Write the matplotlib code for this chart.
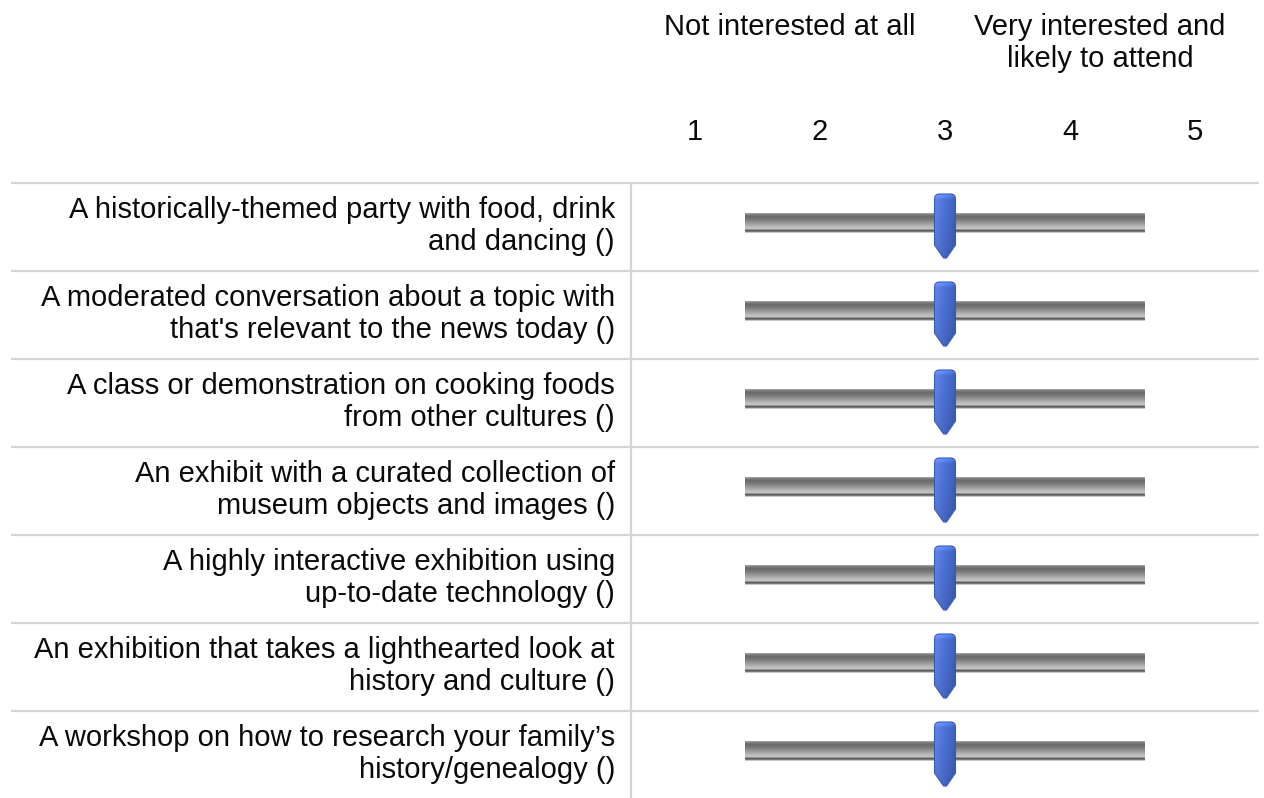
import matplotlib.pyplot as plt
import numpy as np
from matplotlib.path import Path
from matplotlib.patches import PathPatch
from matplotlib.colors import LinearSegmentedColormap

plt.rcParams['font.family'] = ['Liberation Sans', 'DejaVu Sans']

# survey data
scale_ticks = [1, 2, 3, 4, 5]
scale_low = 'Not interested at all'
scale_high = 'Very interested and\nlikely to attend'
items = [
    'A historically-themed party with food, drink\nand dancing ()',
    "A moderated conversation about a topic with\nthat's relevant to the news today ()",
    'A class or demonstration on cooking foods\nfrom other cultures ()',
    'An exhibit with a curated collection of\nmuseum objects and images ()',
    'A highly interactive exhibition using\nup-to-date technology ()',
    'An exhibition that takes a lighthearted look at\nhistory and culture ()',
    'A workshop on how to research your family\u2019s\nhistory/genealogy ()',
]
ratings = [3.0, 3.0, 3.0, 3.0, 3.0, 3.0, 3.0]
track_range = (1.4, 4.6)

W, H = 1264, 798
FS = 21
TEXT = '#0a0a0a'
GRID = '#d4d4d4'

fig = plt.figure(figsize=(W / 100, H / 100), dpi=100)
ax = fig.add_axes((0, 0, 1, 1))

# x in rating units (125 px per step, 3 sits at px 945), y in rows (88 px per row)
PX = 1 / 125
PY = 1 / 88
x0 = 3 - 945 * PX
y0 = -227 * PY


def px(x):
    return x0 + x * PX


def py(y):
    return y0 + y * PY


def grad(stops, n):
    cmap = LinearSegmentedColormap.from_list('g', stops)
    return cmap(np.linspace(0, 1, n))[:, :3]


# header
ax.text(px(790), py(35), scale_low, ha='center', va='baseline', fontsize=FS, color=TEXT)
hi1, hi2 = scale_high.split('\n')
ax.text(px(1100), py(35), hi1, ha='center', va='baseline', fontsize=FS, color=TEXT)
ax.text(px(1100), py(67), hi2, ha='center', va='baseline', fontsize=FS, color=TEXT)
for t in scale_ticks:
    ax.text(t, py(140), str(t), ha='center', va='baseline', fontsize=FS, color=TEXT)

# table lines
n = len(items)
for i in range(n + 1):
    ax.plot([px(11), px(1259)], [i - 0.5, i - 0.5], color=GRID, lw=1.6, solid_capstyle='butt', zorder=1)
ax.plot([px(631), px(631)], [-0.5, py(H)], color=GRID, lw=1.6, solid_capstyle='butt', zorder=1)

track_col = grad([(0.0, '#9a9a9a'), (0.12, '#6a6a6a'), (0.3, '#767676'),
                  (0.75, '#c4c4c4'), (0.82, '#bdbdbd'), (0.88, '#555555'),
                  (0.94, '#6a6a6a'), (1.0, '#c8c8c8')], 20)
track_img = np.repeat(track_col[:, None, :], 2, axis=1)

hcols = grad(['#6285ea', '#4d72d8', '#3f63bb'], 21)
hv = np.linspace(0, 1, 64)
shade = np.where(hv < 0.08, 1.25 - 3 * hv, 1.0) - 0.12 * hv
handle_img = np.clip(hcols[None, :, :] * shade[:, None, None], 0, 1)

hw = 10.5
for i, (label, val) in enumerate(zip(items, ratings)):
    l1, l2 = label.split('\n')
    ax.text(px(615), i - 9 * PY, l1, ha='right', va='baseline', fontsize=FS, color=TEXT)
    ax.text(px(615), i + 23 * PY, l2, ha='right', va='baseline', fontsize=FS, color=TEXT)

    ax.imshow(track_img, extent=(track_range[0], track_range[1], i + 6 * PY, i - 14 * PY),
              aspect='auto', interpolation='bilinear', zorder=2)

    verts = [(-hw, 18), (-1.5, 31), (1.5, 31), (hw, 18), (hw, -28),
             (hw, -33), (hw - 5, -33), (-hw + 5, -33), (-hw, -33), (-hw, -28), (-hw, 18)]
    codes = [Path.MOVETO, Path.LINETO, Path.LINETO, Path.LINETO, Path.LINETO,
             Path.CURVE3, Path.CURVE3, Path.LINETO, Path.CURVE3, Path.CURVE3, Path.CLOSEPOLY]
    path = Path([(val + x * PX, i + y * PY) for x, y in verts], codes)
    patch = PathPatch(path, facecolor='none', edgecolor='#3a5cb0', lw=0.8, zorder=4)
    ax.add_patch(patch)
    im = ax.imshow(handle_img, extent=(val - hw * PX, val + hw * PX, i + 31 * PY, i - 33 * PY),
                   aspect='auto', interpolation='bilinear', zorder=3)
    im.set_clip_path(patch)

ax.set_xlim(x0, x0 + W * PX)
ax.set_ylim(y0 + H * PY, y0)
ax.axis('off')

fig.savefig('out.png', dpi=100, facecolor='white')
